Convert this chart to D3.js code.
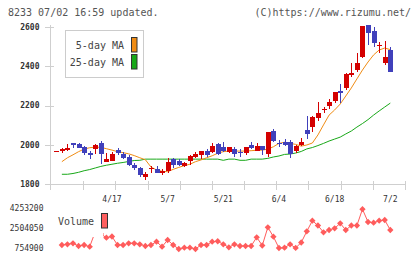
<!DOCTYPE html>
<html><head><meta charset="utf-8">
<script src="https://cdn.jsdelivr.net/npm/d3@7"></script>
<style>html,body{margin:0;padding:0;background:#fff;}svg{display:block;}text{font-family:"DejaVu Sans Mono",monospace;}</style>
</head><body>
<script>
const openP = [1968,1971,1974,2010,2005,1991,1961,1978,2010,1915,1920,1974,1956,1940,1898,1881,1839,1879,1876,1856,1869,1927,1918,1893,1920,1940,1949,1969,1966,2005,1991,1963,1978,1966,1958,2000,1971,1995,1953,2071,2012,2017,2014,1969,2000,2076,2093,2139,2178,2198,2225,2275,2288,2356,2381,2449,2610,2581,2503,2415,2483];
const highP = [1968,1986,2003,2010,2010,1996,1969,2005,2020,1958,1966,1983,1966,1949,1907,1890,1864,1895,1893,1876,1932,1935,1927,1915,1949,1963,1971,1978,2012,2012,2014,1991,1988,1980,1991,2014,2008,1996,2066,2081,2025,2029,2025,2000,2037,2149,2147,2220,2195,2232,2271,2310,2364,2415,2466,2605,2610,2601,2522,2529,2500];
const lowP = [1968,1961,1971,1986,1984,1949,1929,1953,1903,1915,1920,1949,1929,1893,1873,1839,1822,1859,1856,1847,1859,1884,1893,1888,1898,1932,1927,1937,1958,1949,1966,1958,1940,1940,1947,1980,1969,1947,1940,2014,1988,1995,1935,1958,1996,2029,2066,2122,2161,2181,2212,2212,2280,2347,2373,2444,2508,2497,2466,2407,2369];
const closeP = [1968,1981,1986,2000,1986,1958,1949,2000,1954,1929,1954,1958,1932,1898,1881,1847,1851,1883,1859,1869,1912,1898,1898,1910,1944,1954,1969,1949,1995,1954,1971,1988,1953,1961,1988,1986,1995,1974,2066,2020,2003,2000,1953,1995,2014,2056,2140,2164,2183,2220,2271,2263,2359,2368,2418,2605,2568,2520,2508,2449,2373];
const ma5 = [null,1915,1935,1950,1966,1979,1986,1989,1988,1981,1974,1966,1961,1955,1946,1935,1925,1888,1873,1866,1864,1876,1886,1895,1902,1915,1924,1935,1945,1958,1966,1969,1969,1969,1969,1971,1973,1974,1979,1991,2008,2014,2008,2003,1994,2000,2010,2051,2102,2152,2178,2208,2249,2290,2336,2381,2422,2458,2483,2493,2485];
const ma25 = [null,1851,1851,1855,1861,1869,1875,1883,1891,1897,1902,1907,1911,1916,1921,1922,1928,1928,1928,1928,1928,1928,1928,1928,1928,1928,1928,1928,1928,1928,1922,1928,1928,1922,1922,1928,1928,1928,1932,1939,1944,1952,1954,1959,1967,1980,1987,1997,2008,2020,2030,2040,2056,2071,2091,2109,2129,2152,2173,2193,2213];
const volume = [null,1043500,1104700,1192200,956000,1043500,894800,2206700,2005500,1681900,1786900,1043500,1043500,1192200,1192200,1104700,956000,1043500,1332100,894800,1480800,1043500,693700,807400,807400,693700,1043500,1043500,1332100,1370000,1104700,842400,1104700,956000,956000,956000,1716900,1000000,2591500,1769400,780000,807400,1104700,790000,1262200,2241700,3168700,2748900,2154200,2355400,2504000,2941300,2355400,2748900,2748900,4174500,3055000,2993800,3168700,3229900,2355400];
const priceTicks = [1800,2000,2200,2400,2600];
const volTicks = [754900,2504050,4253200];
const dateLabels = ["4/17","5/7","5/21","6/4","6/18","7/2"];
const dateIdx = [10,20,30,40,50,60];
const titleText = "8233 07/02 16:59 updated.";
const copyText = "(C)https://www.rizumu.net/";
const legendNames = ["5-day MA","25-day MA"];

const W=420,H=259;
const svg=d3.select("body").append("svg").attr("width",W).attr("height",H);
const n=openP.length;
const x=d3.scaleLinear().domain([0,n-1]).range([56.3,390.3]);
const y=d3.scaleLinear().domain([1800,2600]).range([184.3,27]);
const yv=d3.scaleLinear().domain([754900,4253200]).range([248.3,208.3]);
const grid=d3.scaleLinear().domain([0,11]).range([51,405]);
const axisC="#cfcfcf";

svg.append("text").attr("x",8).attr("y",16).attr("font-size",10).attr("fill","#555").text(titleText);
svg.append("text").attr("x",411).attr("y",16).attr("text-anchor","end").attr("font-size",10).attr("fill","#555").text(copyText);

const ax=svg.append("g").attr("shape-rendering","crispEdges").attr("stroke",axisC);
ax.append("line").attr("x1",50.5).attr("x2",50.5).attr("y1",25).attr("y2",190);
ax.append("line").attr("x1",45).attr("x2",405).attr("y1",184.5).attr("y2",184.5);
priceTicks.forEach(t=>{const yy=Math.round(y(t))+0.5;ax.append("line").attr("x1",45).attr("x2",54).attr("y1",yy).attr("y2",yy);});
d3.range(1,12).forEach(k=>{const xx=Math.round(grid(k))+0.5;ax.append("line").attr("x1",xx).attr("x2",xx).attr("y1",181).attr("y2",190);});
svg.selectAll(".pl").data(priceTicks).enter().append("text").attr("x",39.5).attr("y",d=>y(d)).attr("dy","0.35em").attr("text-anchor","end").attr("font-size",8).attr("font-weight","bold").attr("fill","#333").text(d=>d);
svg.selectAll(".dl").data(dateLabels).enter().append("text").attr("x",(d,i)=>x(dateIdx[i])).attr("y",201.5).attr("text-anchor","middle").attr("font-size",8).attr("fill","#333").text(d=>d);
svg.selectAll(".vl").data(volTicks).enter().append("text").attr("x",43.5).attr("y",d=>yv(d)).attr("dy","0.35em").attr("text-anchor","end").attr("font-size",8).attr("fill","#333").text(d=>d);

const line=(arr)=>d3.line().defined(d=>d!=null).x((d,i)=>x(i)).y(d=>y(d))(arr);
svg.append("path").attr("d",line(ma25)).attr("fill","none").attr("stroke","#18a818").attr("stroke-width",1);
svg.append("path").attr("d",line(ma5)).attr("fill","none").attr("stroke","#f08c14").attr("stroke-width",1);

const cg=svg.append("g").attr("shape-rendering","crispEdges");
d3.range(n).forEach(i=>{
  const up=closeP[i]>=openP[i];
  const col=up?"#d40000":"#4040bb";
  const cx=Math.round(x(i));
  if(highP[i]!==lowP[i]) cg.append("rect").attr("x",cx).attr("y",y(highP[i])).attr("width",1).attr("height",Math.max(1,y(lowP[i])-y(highP[i]))).attr("fill",col);
  const top=y(Math.max(openP[i],closeP[i])), bot=y(Math.min(openP[i],closeP[i]));
  cg.append("rect").attr("x",cx-2).attr("y",top).attr("width",5).attr("height",Math.max(1,bot-top)).attr("fill",col);
});

const lg=svg.append("g");
lg.append("rect").attr("x",65.5).attr("y",30.5).attr("width",78).attr("height",47).attr("fill","#fff").attr("stroke","#ccc");
const swc=["#f08c14","#18a818"];
legendNames.forEach((t,k)=>{
  lg.append("text").attr("x",124).attr("y",49+k*17).attr("text-anchor","end").attr("font-size",10).attr("fill","#444").text(t);
  lg.append("rect").attr("x",131.5).attr("y",37.5+k*17).attr("width",5.5).attr("height",14.5).attr("fill",swc[k]).attr("stroke","#333");
});

const vline=d3.line().defined(d=>d!=null).x((d,i)=>x(i)).y(d=>yv(d));
svg.append("path").attr("d",vline(volume)).attr("fill","none").attr("stroke","#ff5c5c").attr("stroke-width",1);
const sym=d3.symbol().type(d3.symbolSquare).size(20);
svg.selectAll(".vd").data(volume.map((v,i)=>({v,i})).filter(d=>d.v!=null)).enter().append("path")
  .attr("d",sym).attr("fill","#ff5c5c")
  .attr("transform",d=>`translate(${x(d.i)},${yv(d.v)}) rotate(45)`);
svg.append("rect").attr("x",55).attr("y",205).attr("width",48).attr("height",32).attr("fill","#fff");
svg.append("text").attr("x",58).attr("y",225).attr("font-size",10).attr("fill","#444").text("Volume");
svg.append("rect").attr("x",101.5).attr("y",213.5).attr("width",6).attr("height",14.5).attr("fill","#ff6060").attr("stroke","#333");
</script>
</body></html>
